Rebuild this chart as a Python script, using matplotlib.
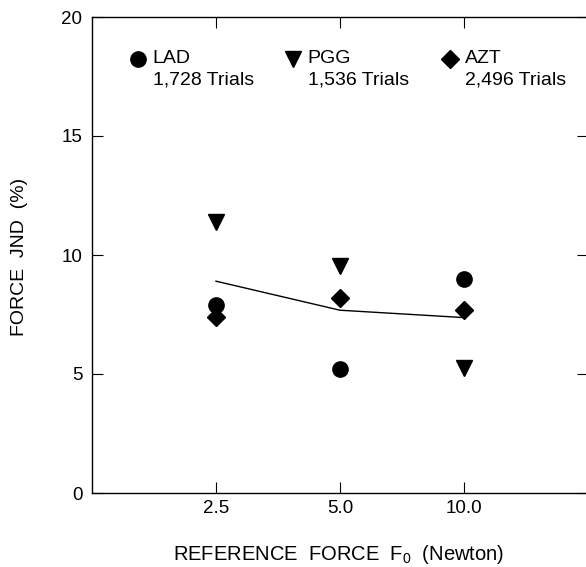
import matplotlib
matplotlib.use("Agg")
import matplotlib.pyplot as plt

plt.rcParams['font.family'] = ['Liberation Sans', 'DejaVu Sans']
plt.rcParams['mathtext.fontset'] = 'custom'
plt.rcParams['mathtext.rm'] = 'Liberation Sans'
plt.rcParams['mathtext.it'] = 'Liberation Sans'

# Data
force_labels = ["2.5", "5.0", "10.0"]
x_pos = [1, 2, 3]
lad = [7.9, 5.2, 9.0]
pgg = [11.4, 9.55, 5.25]
azt = [7.4, 8.2, 7.7]
mean_jnd = [8.9, 7.68, 7.37]

subjects = ["LAD", "PGG", "AZT"]
trials = ["1,728 Trials", "1,536 Trials", "2,496 Trials"]
markers = ["o", "v", "D"]
msizes = [11, 11, 9]

W, H = 586, 567
fig = plt.figure(figsize=(W / 100, H / 100), dpi=100)
ax = fig.add_axes([92 / W, (H - 493) / H, (588 - 92) / W, (493 - 17) / H])

ax.plot(x_pos, mean_jnd, color="black", lw=1.0, zorder=2)
for vals, m, s in zip([lad, pgg, azt], markers, msizes):
    ax.plot(x_pos, vals, linestyle="none", marker=m, markersize=s,
            color="black", zorder=3)

# Legend-like annotations
leg_x_marker = [0.37, 1.62, 2.89]
leg_x_text = [0.49, 1.74, 3.01]
for xm, xt, m, s, name, tr in zip(leg_x_marker, leg_x_text, markers, msizes, subjects, trials):
    ax.plot([xm], [18.24], linestyle="none", marker=m, markersize=s, color="black", clip_on=False)
    ax.text(xt, 18.24, name, fontsize=14, va="center", ha="left")
    ax.text(xt, 17.35, tr, fontsize=14, va="center", ha="left")

ax.set_xlim(0, 4)
ax.set_ylim(0, 20)
ax.set_xticks(x_pos)
ax.set_xticklabels(force_labels)
ax.set_yticks([0, 5, 10, 15, 20])
ax.tick_params(direction="in", length=8, width=0.8, labelsize=13.5,
               top=True, right=True)
ax.tick_params(axis="x", pad=5)
ax.tick_params(axis="y", pad=7)
for sp in ax.spines.values():
    sp.set_linewidth(1.0)

fig.text(20 / W, 1 - 257 / H, "FORCE  JND  (%)", fontsize=14, rotation=90,
         ha="center", va="center")
fig.text(339 / W, 1 - 560 / H, r"REFERENCE  FORCE  F$_0$  (Newton)", fontsize=14.5,
         ha="center", va="baseline")

fig.savefig("out.png", dpi=100)
